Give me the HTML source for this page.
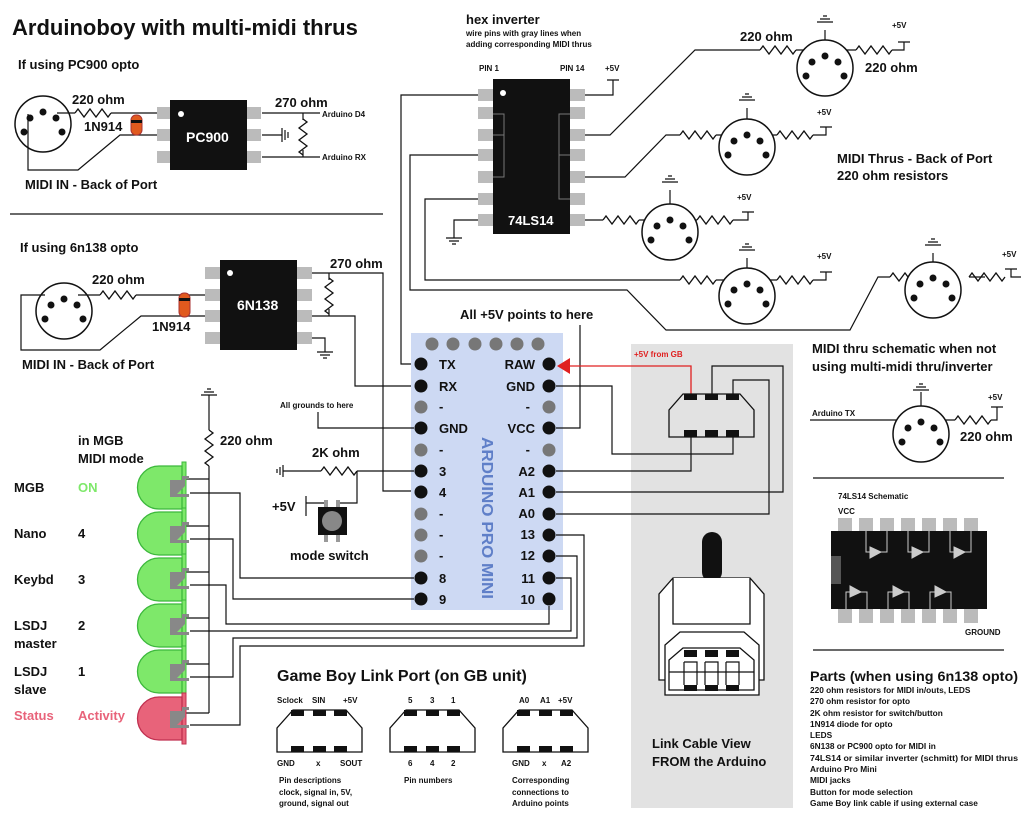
<!DOCTYPE html>
<html><head><meta charset="utf-8"><style>
html,body{margin:0;padding:0;background:#fff}
svg{display:block}
text{font-family:"Liberation Sans",sans-serif;font-weight:bold;fill:#111}
</style></head><body>
<svg width="1024" height="815" viewBox="0 0 1024 815" xmlns="http://www.w3.org/2000/svg">
<defs>
<symbol id="din" overflow="visible"><circle cx="0" cy="0" r="28" fill="#fff" stroke="#111" stroke-width="1.5"/><circle cx="0" cy="-12" r="3.5" fill="#111"/><circle cx="-13" cy="-6" r="3.5" fill="#111"/><circle cx="13" cy="-6" r="3.5" fill="#111"/><circle cx="-19" cy="8" r="3.5" fill="#111"/><circle cx="19" cy="8" r="3.5" fill="#111"/></symbol>
<symbol id="res" overflow="visible"><path d="M0 0 l3 -4 l6 8 l6 -8 l6 8 l6 -8 l6 8 l3 -4" fill="none" stroke="#111" stroke-width="1.3"/></symbol>
<symbol id="gnd" overflow="visible"><path d="M-8 0 h16 M-5 3 h10 M-2 6 h4" stroke="#111" stroke-width="1.3"/></symbol>
<symbol id="gndu" overflow="visible"><path d="M-8 0 h16 M-5 -3 h10 M-2 -6 h4" stroke="#111" stroke-width="1.3"/></symbol>
<symbol id="led" overflow="visible"><rect x="45" y="-4" width="4" height="51" fill="#7ee86a" stroke="#3cb83c"/><path d="M45 0 H22 A21 21 0 0 0 22 43 H45 Z" fill="#7ee86a" stroke="#3cb83c" stroke-width="1.3"/><path d="M33 14 L45 14 L45 10 L52 10 L52 13 L48 13 L48 20 L40 28 L52 28 L52 31 L33 31 Z" fill="#888"/></symbol>
<symbol id="ledr" overflow="visible"><rect x="45" y="-4" width="4" height="51" fill="#e8637a" stroke="#c03050"/><path d="M45 0 H22 A21 21 0 0 0 22 43 H45 Z" fill="#e8637a" stroke="#c03050" stroke-width="1.3"/><path d="M33 14 L45 14 L45 10 L52 10 L52 13 L48 13 L48 20 L40 28 L52 28 L52 31 L33 31 Z" fill="#888"/></symbol>
<symbol id="gbp" overflow="visible"><path d="M0 42 V18 L16 0 H69 L85 18 V42 Z" fill="#fff" stroke="#111" stroke-width="1.3"/><rect x="14" y="0" width="13" height="6" fill="#111"/><rect x="36" y="0" width="13" height="6" fill="#111"/><rect x="57" y="0" width="13" height="6" fill="#111"/><rect x="14" y="36" width="13" height="6" fill="#111"/><rect x="36" y="36" width="13" height="6" fill="#111"/><rect x="57" y="36" width="13" height="6" fill="#111"/></symbol>
</defs>

<rect x="631" y="344" width="162" height="464" fill="#e2e2e2"/>

<text x="12" y="35" font-size="22">Arduinoboy with multi-midi thrus</text>

<text x="18" y="69" font-size="13">If using PC900 opto</text>
<use href="#din" x="43" y="124"/>
<g fill="none" stroke="#111" stroke-width="1.2">
<path d="M57 113 H75 M111 113 H157"/>
<path d="M28 114 V170 H78 L120 135 H157"/>
<path d="M262 113 H320 M262 157 H320 M262 135 H282 M303 113 V120 M303 150 V157"/>
<path d="M282 128 V142"/>
</g>
<use href="#res" x="75" y="113"/>
<use href="#res" x="303" y="119" transform="rotate(90 303 119)"/>
<path d="M285 130 V140 M288 132 V138" stroke="#111" stroke-width="1.2"/>
<rect x="131" y="115" width="11" height="20" rx="5" fill="#e05a1e" stroke="#a33"/><rect x="131" y="120" width="11" height="3" fill="#111"/>
<rect x="157" y="107" width="14" height="12" fill="#bbb"/><rect x="157" y="129" width="14" height="12" fill="#bbb"/><rect x="157" y="151" width="14" height="12" fill="#bbb"/>
<rect x="247" y="107" width="14" height="12" fill="#bbb"/><rect x="247" y="129" width="14" height="12" fill="#bbb"/><rect x="247" y="151" width="14" height="12" fill="#bbb"/>
<rect x="170" y="100" width="77" height="70" fill="#111"/>
<circle cx="181" cy="114" r="3" fill="#fff"/>
<text x="186" y="142" font-size="14" style="fill:#fff">PC900</text>
<text x="72" y="104" font-size="13">220 ohm</text>
<text x="84" y="131" font-size="13">1N914</text>
<text x="275" y="107" font-size="13">270 ohm</text>
<text x="322" y="117" font-size="8">Arduino D4</text>
<text x="322" y="160" font-size="8">Arduino RX</text>
<text x="25" y="189" font-size="13">MIDI IN - Back of Port</text>
<line x1="10" y1="214" x2="383" y2="214" stroke="#111" stroke-width="1.2"/>

<text x="20" y="252" font-size="13">If using 6n138 opto</text>
<use href="#din" x="64" y="311"/>
<g fill="none" stroke="#111" stroke-width="1.2">
<path d="M78 295 H100 M136 295 H205"/>
<path d="M45 295 H21 V350 H100 L141 316 H205"/>
<path d="M311 273 H383 V491 H421"/>
<path d="M311 316 H355 V386 H421"/>
<path d="M329 273 V280 M329 309 V316"/>
<path d="M311 338 H325 V352"/>
</g>
<use href="#res" x="100" y="295"/>
<use href="#res" x="329" y="278" transform="rotate(90 329 278)"/>
<use href="#gnd" x="325" y="352"/>
<rect x="179" y="293" width="11" height="24" rx="5" fill="#e05a1e" stroke="#a33"/><rect x="179" y="298" width="11" height="3" fill="#111"/>
<g fill="#bbb"><rect x="205" y="267" width="15" height="12"/><rect x="205" y="289" width="15" height="12"/><rect x="205" y="310" width="15" height="12"/><rect x="205" y="332" width="15" height="12"/>
<rect x="297" y="267" width="15" height="12"/><rect x="297" y="289" width="15" height="12"/><rect x="297" y="310" width="15" height="12"/><rect x="297" y="332" width="15" height="12"/></g>
<rect x="220" y="260" width="77" height="90" fill="#111"/>
<circle cx="230" cy="273" r="3" fill="#fff"/>
<text x="237" y="310" font-size="14" style="fill:#fff">6N138</text>
<text x="92" y="284" font-size="13">220 ohm</text>
<text x="152" y="331" font-size="13">1N914</text>
<text x="330" y="268" font-size="13">270 ohm</text>
<text x="22" y="369" font-size="13">MIDI IN - Back of Port</text>

<text x="466" y="24" font-size="13">hex inverter</text>
<text x="466" y="36" font-size="8">wire pins with gray lines when</text>
<text x="466" y="47" font-size="8">adding corresponding MIDI thrus</text>
<text x="479" y="71" font-size="8">PIN 1</text>
<text x="560" y="71" font-size="8">PIN 14</text>
<text x="605" y="71" font-size="8">+5V</text>
<g fill="none" stroke="#111" stroke-width="1.2">
<path d="M421 364 H401 V95 H478"/>
<path d="M585 95 H613 V80 M607 80 H619"/>
<path d="M585 135 H610 L695 50 H760 M796 50 H810 M840 50 H856 M892 50 H904 V42 M898 42 H910"/>
<path d="M585 177 H625 L666 135 H680 M716 135 H733 M761 135 H777 M813 135 H826 V127 M820 127 H832"/>
<path d="M585 220 H603 M639 220 H656 M684 220 H697 M733 220 H748 V212 M742 212 H754"/>
<path d="M478 155 H410 V290 H627 L666 330 H850 L878 277 H890 M926 277 H948 M969 277 H985 M1021 277 H1011 V269 M1005 269 H1017"/>
<path d="M478 199 H425 V280 H680 M716 280 H733 M761 280 H777 M813 280 H826 V272 M820 272 H832"/>
<path d="M478 220 H454 V238"/>
<path d="M825 56 V30 M747 131 V108 M670 213 V190 M747 283 V258 M933 278 V253"/>
</g>
<use href="#gnd" x="454" y="238"/>
<use href="#res" x="760" y="50"/><use href="#res" x="856" y="50"/>
<use href="#res" x="680" y="135"/><use href="#res" x="777" y="135"/>
<use href="#res" x="603" y="220"/><use href="#res" x="697" y="220"/>
<use href="#res" x="680" y="280"/><use href="#res" x="777" y="280"/>
<use href="#res" x="890" y="277"/><use href="#res" x="969" y="277"/>
<use href="#gndu" x="825" y="22"/><use href="#gndu" x="747" y="100"/><use href="#gndu" x="670" y="182"/><use href="#gndu" x="747" y="250"/><use href="#gndu" x="933" y="245"/>
<use href="#din" x="825" y="68"/><use href="#din" x="747" y="147"/><use href="#din" x="670" y="232"/><use href="#din" x="747" y="296"/><use href="#din" x="933" y="290"/>
<g fill="#bbb"><rect x="478" y="89" width="15" height="12"/><rect x="478" y="107" width="15" height="12"/><rect x="478" y="129" width="15" height="12"/><rect x="478" y="149" width="15" height="12"/><rect x="478" y="171" width="15" height="12"/><rect x="478" y="193" width="15" height="12"/><rect x="478" y="214" width="15" height="12"/>
<rect x="570" y="89" width="15" height="12"/><rect x="570" y="107" width="15" height="12"/><rect x="570" y="129" width="15" height="12"/><rect x="570" y="149" width="15" height="12"/><rect x="570" y="171" width="15" height="12"/><rect x="570" y="193" width="15" height="12"/><rect x="570" y="214" width="15" height="12"/></g>
<rect x="493" y="79" width="77" height="155" fill="#111"/>
<circle cx="503" cy="93" r="3" fill="#fff"/>
<path d="M493 114 H504 V177 H493 M493 135 H504 M570 114 H559 V199 H570 M570 155 H559" fill="none" stroke="#777" stroke-width="1"/>
<text x="508" y="225" font-size="13" style="fill:#fff">74LS14</text>
<text x="740" y="41" font-size="13">220 ohm</text>
<text x="865" y="72" font-size="13">220 ohm</text>
<text x="892" y="28" font-size="8">+5V</text>
<text x="817" y="115" font-size="8">+5V</text>
<text x="737" y="200" font-size="8">+5V</text>
<text x="817" y="259" font-size="8">+5V</text>
<text x="1002" y="257" font-size="8">+5V</text>
<text x="837" y="163" font-size="13">MIDI Thrus - Back of Port</text>
<text x="837" y="180" font-size="13">220 ohm resistors</text>

<text x="460" y="319" font-size="13">All +5V points to here</text>
<rect x="411" y="333" width="152" height="277" fill="#cdd9f3"/>
<g fill="#777"><circle cx="432" cy="344" r="6.5"/><circle cx="453" cy="344" r="6.5"/><circle cx="475" cy="344" r="6.5"/><circle cx="496" cy="344" r="6.5"/><circle cx="517" cy="344" r="6.5"/><circle cx="538" cy="344" r="6.5"/>
<circle cx="421" cy="407" r="6.5"/><circle cx="421" cy="450" r="6.5"/><circle cx="421" cy="514" r="6.5"/><circle cx="421" cy="535" r="6.5"/><circle cx="421" cy="556" r="6.5"/>
<circle cx="549" cy="407" r="6.5"/><circle cx="549" cy="450" r="6.5"/></g>
<g fill="#111"><circle cx="421" cy="364" r="6.5"/><circle cx="421" cy="386" r="6.5"/><circle cx="421" cy="428" r="6.5"/><circle cx="421" cy="471" r="6.5"/><circle cx="421" cy="492" r="6.5"/><circle cx="421" cy="578" r="6.5"/><circle cx="421" cy="599" r="6.5"/>
<circle cx="549" cy="364" r="6.5"/><circle cx="549" cy="386" r="6.5"/><circle cx="549" cy="428" r="6.5"/><circle cx="549" cy="471" r="6.5"/><circle cx="549" cy="492" r="6.5"/><circle cx="549" cy="514" r="6.5"/><circle cx="549" cy="535" r="6.5"/><circle cx="549" cy="556" r="6.5"/><circle cx="549" cy="578" r="6.5"/><circle cx="549" cy="599" r="6.5"/></g>
<g font-size="13"><text x="439" y="369">TX</text><text x="439" y="391">RX</text><text x="439" y="411">-</text><text x="439" y="433">GND</text><text x="439" y="454">-</text><text x="439" y="476">3</text><text x="439" y="497">4</text><text x="439" y="518">-</text><text x="439" y="539">-</text><text x="439" y="560">-</text><text x="439" y="583">8</text><text x="439" y="604">9</text>
<g text-anchor="end"><text x="535" y="369">RAW</text><text x="535" y="391">GND</text><text x="530" y="411">-</text><text x="535" y="433">VCC</text><text x="530" y="454">-</text><text x="535" y="476">A2</text><text x="535" y="497">A1</text><text x="535" y="518">A0</text><text x="535" y="539">13</text><text x="535" y="560">12</text><text x="535" y="583">11</text><text x="535" y="604">10</text></g></g>
<text x="0" y="0" font-size="16" textLength="162" lengthAdjust="spacingAndGlyphs" transform="translate(482 437) rotate(90)" style="fill:#5f7fc8">ARDUINO PRO MINI</text>

<g fill="none" stroke="#111" stroke-width="1.2">
<path d="M580 325 V428 H556"/>
<path d="M556 386 H612 V454 H733 V437"/>
<path d="M556 471 H691 V437"/>
<path d="M556 492 H783 V366 H712 V394"/>
<path d="M556 514 H769 V380 H733 V394"/>
<path d="M556 535 H584 V646 H240 V725 H190"/>
<path d="M556 556 H577 V638 H233 V677 H190"/>
<path d="M556 578 H571 V631 H190"/>
<path d="M549 606 V624 H226 V585 H190"/>
<path d="M414 599 H233 V539 H190"/>
<path d="M414 578 H240 V493 H190"/>
<path d="M414 428 H318 V412"/>
<path d="M414 471 H357 M321 471 H283"/>
<path d="M209 395 V430 M209 466 V713 M185 479 H209 M185 526 H209 M185 572 H209 M185 618 H209 M185 664 H209 M185 713 H209"/>
<path d="M357 471 V503 H338 M327 503 H306 V496 M306 503 V516"/>
</g>
<path d="M283 465 V477 M280 467 V475 M277 469 V473" stroke="#111" stroke-width="1.2"/>
<use href="#res" x="321" y="471"/>
<use href="#res" x="209" y="430" transform="rotate(90 209 430)"/>
<use href="#gndu" x="209" y="395"/>
<path d="M691 394 V366 H563" fill="none" stroke="#e02020" stroke-width="1.3"/>
<path d="M557 366 L570 358 V374 Z" fill="#e02020"/>
<text x="634" y="357" font-size="8" style="fill:#e02020">+5V from GB</text>
<text x="280" y="408" font-size="8">All grounds to here</text>
<text x="312" y="457" font-size="13">2K ohm</text>
<text x="272" y="511" font-size="13">+5V</text>
<rect x="324" y="500" width="4" height="42" fill="#999"/><rect x="336" y="500" width="4" height="42" fill="#999"/>
<rect x="318" y="507" width="29" height="28" fill="#111"/><circle cx="332" cy="521" r="10" fill="#888"/>
<text x="290" y="560" font-size="13">mode switch</text>

<text x="78" y="445" font-size="13">in MGB</text>
<text x="78" y="463" font-size="13">MIDI mode</text>
<use href="#led" x="137" y="466"/><use href="#led" x="137" y="512"/><use href="#led" x="137" y="558"/><use href="#led" x="137" y="604"/><use href="#led" x="137" y="650"/><use href="#ledr" x="137" y="697"/>
<g font-size="13"><text x="14" y="492">MGB</text><text x="78" y="492" style="fill:#7ee86a">ON</text>
<text x="14" y="538">Nano</text><text x="78" y="538">4</text>
<text x="14" y="584">Keybd</text><text x="78" y="584">3</text>
<text x="14" y="630">LSDJ</text><text x="14" y="648">master</text><text x="78" y="630">2</text>
<text x="14" y="676">LSDJ</text><text x="14" y="694">slave</text><text x="78" y="676">1</text>
<text x="14" y="720" style="fill:#e8637a">Status</text><text x="78" y="720" style="fill:#e8637a">Activity</text></g>
<text x="220" y="445" font-size="13">220 ohm</text>

<text x="277" y="681" font-size="16">Game Boy Link Port (on GB unit)</text>
<use href="#gbp" x="277" y="710"/><use href="#gbp" x="390" y="710"/><use href="#gbp" x="503" y="710"/>
<g font-size="8"><text x="277" y="703">Sclock</text><text x="312" y="703">SIN</text><text x="343" y="703">+5V</text>
<text x="277" y="766">GND</text><text x="316" y="766">x</text><text x="340" y="766">SOUT</text>
<text x="408" y="703">5</text><text x="430" y="703">3</text><text x="451" y="703">1</text>
<text x="408" y="766">6</text><text x="430" y="766">4</text><text x="451" y="766">2</text>
<text x="519" y="703">A0</text><text x="540" y="703">A1</text><text x="558" y="703">+5V</text>
<text x="512" y="766">GND</text><text x="542" y="766">x</text><text x="561" y="766">A2</text>
<text x="279" y="783">Pin descriptions</text><text x="279" y="795">clock, signal in, 5V,</text><text x="279" y="806">ground, signal out</text>
<text x="404" y="783">Pin numbers</text>
<text x="512" y="783">Corresponding</text><text x="512" y="795">connections to</text><text x="512" y="806">Arduino points</text></g>

<path d="M669 437 V410 L683 394 H740 L754 410 V437 Z" fill="none" stroke="#111" stroke-width="1.3"/>
<g fill="#111"><rect x="684" y="394" width="13" height="6"/><rect x="705" y="394" width="13" height="6"/><rect x="726" y="394" width="13" height="6"/>
<rect x="684" y="430" width="13" height="7"/><rect x="705" y="430" width="13" height="7"/><rect x="726" y="430" width="13" height="7"/></g>
<rect x="702" y="532" width="20" height="50" rx="10" fill="#111"/>
<g fill="#fff" stroke="#111" stroke-width="1.3">
<path d="M659 680 V594 L673 578 H750 L764 594 V680 Z"/>
<path d="M673 578 V624 H750 V578"/>
<path d="M665 695 V645 L680 632 H744 L759 645 V695 Z"/>
<path d="M669 690 V660 L683 648 H740 L754 660 V690 Z"/>
<path d="M669 672 H754"/>
</g>
<g fill="#111"><rect x="684" y="650" width="13" height="7"/><rect x="705" y="650" width="13" height="7"/><rect x="726" y="650" width="13" height="7"/>
<rect x="684" y="685" width="13" height="6"/><rect x="705" y="685" width="13" height="6"/><rect x="726" y="685" width="13" height="6"/></g>
<path d="M684 662 H697 V685 M705 662 H718 V685 M726 662 H739 V685 M684 662 V685 M705 662 V685 M726 662 V685" fill="none" stroke="#111" stroke-width="1.2"/>
<text x="652" y="748" font-size="13">Link Cable View</text>
<text x="652" y="766" font-size="13">FROM the Arduino</text>

<text x="812" y="353" font-size="13">MIDI thru schematic when not</text>
<text x="812" y="371" font-size="13">using multi-midi thru/inverter</text>
<text x="812" y="416" font-size="8">Arduino TX</text>
<g fill="none" stroke="#111" stroke-width="1.2"><path d="M810 420 H906 M936 420 H955 M991 420 H997 V407 M991 407 H1003 M921 410 V392"/></g>
<use href="#gndu" x="921" y="390"/>
<use href="#res" x="955" y="420"/>
<use href="#din" x="921" y="434"/>
<text x="988" y="400" font-size="8">+5V</text>
<text x="960" y="441" font-size="13">220 ohm</text>
<line x1="813" y1="478" x2="1004" y2="478" stroke="#111" stroke-width="1.2"/>
<text x="838" y="499" font-size="8">74LS14 Schematic</text>
<text x="838" y="514" font-size="8">VCC</text>
<g fill="#bbb"><rect x="838" y="518" width="14" height="14"/><rect x="859" y="518" width="14" height="14"/><rect x="880" y="518" width="14" height="14"/><rect x="901" y="518" width="14" height="14"/><rect x="922" y="518" width="14" height="14"/><rect x="943" y="518" width="14" height="14"/><rect x="964" y="518" width="14" height="14"/>
<rect x="838" y="609" width="14" height="14"/><rect x="859" y="609" width="14" height="14"/><rect x="880" y="609" width="14" height="14"/><rect x="901" y="609" width="14" height="14"/><rect x="922" y="609" width="14" height="14"/><rect x="943" y="609" width="14" height="14"/><rect x="964" y="609" width="14" height="14"/></g>
<rect x="831" y="531" width="156" height="78" fill="#111"/>
<rect x="831" y="556" width="10" height="28" fill="#555"/>
<g fill="#ccc" stroke="#ccc" stroke-width="1"><path d="M870 547 L881 552 L870 558 Z"/><path d="M912 547 L923 552 L912 558 Z"/><path d="M954 547 L965 552 L954 558 Z"/>
<path d="M850 586 L861 592 L850 597 Z"/><path d="M893 586 L904 592 L893 597 Z"/><path d="M935 586 L946 592 L935 597 Z"/></g>
<g fill="none" stroke="#ccc" stroke-width="1"><path d="M866 531 V552 H870 M881 552 H887 V531 M908 531 V552 H912 M923 552 H929 V531 M950 531 V552 H954 M965 552 H971 V531 M846 609 V592 H850 M861 592 H867 V609 M888 609 V592 H893 M904 592 H909 V609 M930 609 V592 H935 M946 592 H951 V609"/></g>
<text x="965" y="635" font-size="8">GROUND</text>
<line x1="813" y1="650" x2="1004" y2="650" stroke="#111" stroke-width="1.2"/>
<text x="810" y="681" font-size="14" textLength="208" lengthAdjust="spacingAndGlyphs">Parts (when using 6n138 opto)</text>
<g font-size="8.3"><text x="810" y="693">220 ohm resistors for MIDI in/outs, LEDS</text>
<text x="810" y="704">270 ohm resistor for opto</text>
<text x="810" y="716">2K ohm resistor for switch/button</text>
<text x="810" y="727">1N914 diode for opto</text>
<text x="810" y="738">LEDS</text>
<text x="810" y="749">6N138 or PC900 opto for MIDI in</text>
<text x="810" y="761" textLength="208" lengthAdjust="spacingAndGlyphs">74LS14 or similar inverter (schmitt) for MIDI thrus</text>
<text x="810" y="772">Arduino Pro Mini</text>
<text x="810" y="783">MIDI jacks</text>
<text x="810" y="795">Button for mode selection</text>
<text x="810" y="806">Game Boy link cable if using external case</text></g>
</svg>
</body></html>
